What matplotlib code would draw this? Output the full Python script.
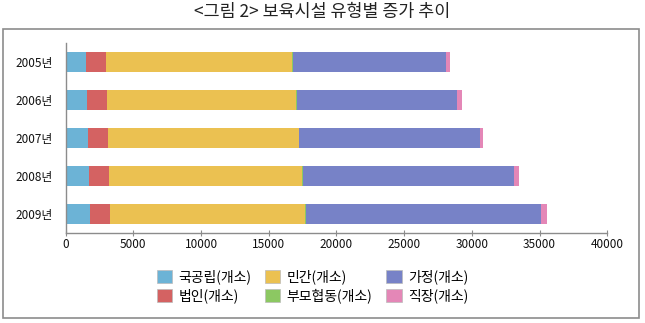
import matplotlib
matplotlib.use("Agg")
import matplotlib.pyplot as plt
from matplotlib.patches import Rectangle, Patch
import numpy as np

plt.rcParams['font.family'] = ['Noto Sans CJK KR', 'DejaVu Sans']

years = ['2005년', '2006년', '2007년', '2008년', '2009년']
series_names = ['국공립(개소)', '법인(개소)', '민간(개소)', '부모협동(개소)', '가정(개소)', '직장(개소)']
gukgong = [1473, 1543, 1643, 1748, 1826]
beobin = [1495, 1508, 1475, 1458, 1470]
mingan = [13734, 13945, 14083, 14275, 14368]
bumo = [54, 58, 66, 67, 74]
gajeong = [11346, 11830, 13306, 15525, 17359]
jikjang = [265, 349, 283, 426, 453]
series_values = [gukgong, beobin, mingan, bumo, gajeong, jikjang]
colors = ['#6CB3D6', '#D46262', '#EBC151', '#8CC862', '#7782C7', '#E487B7']
xticks = [0, 5000, 10000, 15000, 20000, 25000, 30000, 35000, 40000]

W, H = 645, 323
fig = plt.figure(figsize=(W / 100, H / 100), dpi=100)

# background dot pattern (decorative)
dx = np.arange(20.5, W, 21.45)
dy = np.arange(6.3, H, 21.5)
gx, gy = np.meshgrid(dx, dy)
bg = fig.add_axes([0, 0, 1, 1], zorder=-5)
bg.set_xlim(0, W)
bg.set_ylim(H, 0)
bg.axis('off')
bg.scatter(gx.ravel(), gy.ravel(), s=0.3, c='#333333', marker='s', linewidths=0)
bg.add_patch(Rectangle((3, 29.3), 636.3, 289, fill=False, edgecolor='#8c8c8c', linewidth=1.2))

fig.text(0.5, 1 - 12.5 / H, '<그림 2> 보육시설 유형별 증가 추이', ha='center', va='center',
         fontsize=12.5, color='#222222')

ax = fig.add_axes([65.7 / W, 1 - 233 / H, (607.3 - 65.7) / W, (233 - 43.5) / H])
ax.patch.set_alpha(0)
y = np.arange(len(years))
left = np.zeros(len(years))
for name, vals, c in zip(series_names, series_values, colors):
    v = np.array(vals, dtype=float)
    ax.barh(y, v, left=left, height=0.53, color=c, label=name, linewidth=0)
    left += v

ax.set_xlim(0, 40000)
ax.set_ylim(len(years) - 0.5, -0.5)
ax.set_yticks(y)
ax.set_yticklabels(years, fontsize=8.5, color='#111111')
ax.set_xticks(xticks)
ax.set_xticklabels([str(t) for t in xticks], fontsize=8.5, color='#111111')
for s in ['top', 'right']:
    ax.spines[s].set_visible(False)
for s in ['left', 'bottom']:
    ax.spines[s].set_color('#8c8c8c')
    ax.spines[s].set_linewidth(1.0)
ax.tick_params(axis='y', length=0, pad=9)
ax.tick_params(axis='x', direction='inout', length=5, color='#8c8c8c', pad=1)

handles = [Patch(facecolor=c, edgecolor='#bbbbbb', linewidth=0.5) for c in colors]
fig.legend(handles, series_names, ncol=3, frameon=False, fontsize=10,
           loc='center left', bbox_to_anchor=(147 / W, 1 - 286.5 / H),
           handlelength=1.1, handleheight=1.1, handletextpad=0.45,
           columnspacing=1.0, labelspacing=0.3, borderpad=0.2)

fig.savefig('out.png', dpi=100)
